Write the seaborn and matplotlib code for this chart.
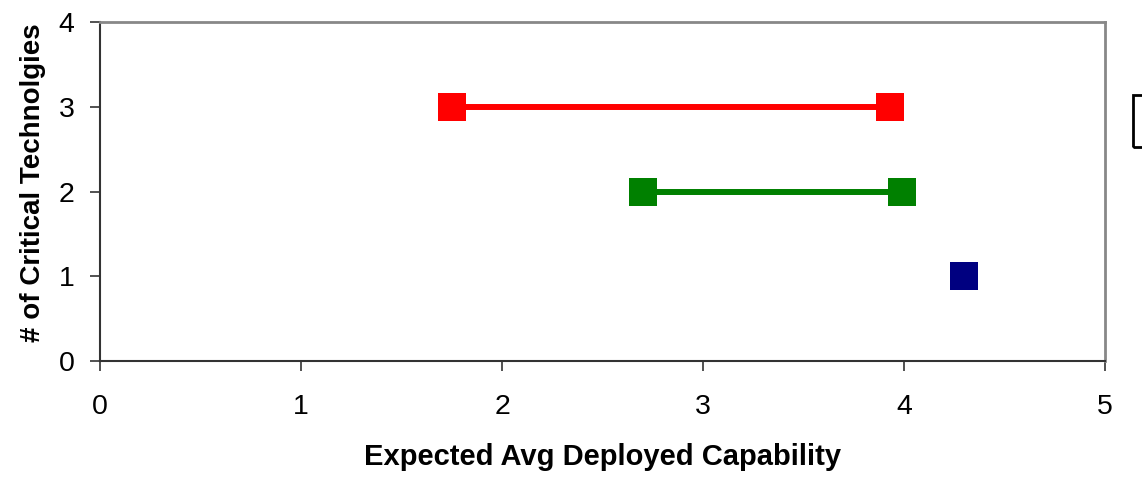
import matplotlib
matplotlib.use("Agg")
import matplotlib.pyplot as plt
import seaborn as sns
import pandas as pd
from matplotlib.patches import Rectangle

# Capability ranges per count of critical technologies
groups = ["three", "two", "one"]
num_critical = [3, 2, 1]
range_low = [1.75, 2.70, 4.30]
range_high = [3.93, 3.99, 4.30]
group_colors = ["#FF0000", "#008000", "#000080"]

x_ticks = [0, 1, 2, 3, 4, 5]
y_ticks = [0, 1, 2, 3, 4]

rows = []
for g, n, lo, hi in zip(groups, num_critical, range_low, range_high):
    xs = [lo] if lo == hi else [lo, hi]
    for x in xs:
        rows.append({"group": g, "capability": x, "count": n})
df = pd.DataFrame(rows)

sns.set_style("white")
plt.rcParams["font.family"] = ["Liberation Sans", "DejaVu Sans"]
plt.rcParams["text.color"] = "black"
plt.rcParams["axes.labelcolor"] = "black"
plt.rcParams["xtick.color"] = "black"
plt.rcParams["ytick.color"] = "black"

fig = plt.figure(figsize=(11.42, 4.82), dpi=100)
ax = fig.add_axes([100 / 1142, 1 - 361 / 482, 1005 / 1142, 339 / 482])

sns.lineplot(data=df, x="capability", y="count", hue="group",
             palette=dict(zip(groups, group_colors)), marker="s",
             markersize=20.5, linewidth=4.3, markeredgewidth=0,
             sort=False, legend=False, ax=ax, zorder=3)

ax.set_xlim(0, 5)
ax.set_ylim(0, 4)
ax.set_xticks(x_ticks)
ax.set_yticks(y_ticks)
ax.tick_params(axis="both", labelsize=20.5, direction="out", length=7.5,
               width=1.2, color="#333333", labelcolor="black",
               bottom=True, left=True)
ax.tick_params(axis="x", pad=16)
ax.tick_params(axis="y", pad=11)

for side in ["left", "bottom"]:
    ax.spines[side].set_color("#333333")
    ax.spines[side].set_linewidth(1.5)
for side in ["top", "right"]:
    ax.spines[side].set_color("#888888")
    ax.spines[side].set_linewidth(2)

ax.set_xlabel("Expected Avg Deployed Capability", fontsize=21,
              fontweight="bold", labelpad=17, color="black")
ax.set_ylabel("# of Critical Technolgies", fontsize=20,
              fontweight="bold", labelpad=9, color="black")
ax.yaxis.label.set_y(0.525)

# Legend frame at the right edge of the figure
fig.patches.append(Rectangle((1133 / 1142, 1 - 147 / 482), 30 / 1142,
                             52 / 482, transform=fig.transFigure,
                             fill=False, edgecolor="black", linewidth=2))

fig.savefig("out.png", dpi=100, facecolor="white")
